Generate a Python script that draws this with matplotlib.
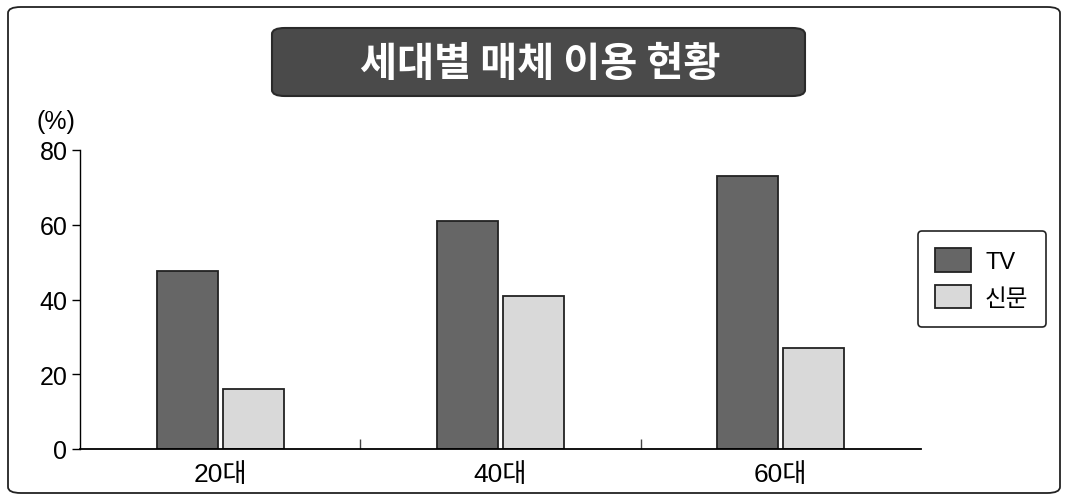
import matplotlib
matplotlib.use("Agg")
import matplotlib.pyplot as plt
import numpy as np
from matplotlib.patches import FancyBboxPatch

plt.rcParams['font.family'] = ['Liberation Sans', 'Noto Sans CJK KR', 'DejaVu Sans']

categories = ['20대', '40대', '60대']
series_names = ['TV', '신문']
tv_values = [47.5, 61, 73]
news_values = [16, 41, 27]
yticks = [0, 20, 40, 60, 80]

W, H = 1069, 502
fig = plt.figure(figsize=(W/100, H/100), dpi=100)

# outer rounded frame
frame = FancyBboxPatch((8/W, 8/H), 1052/W, 486/H, boxstyle="round,pad=0,rounding_size=0.012",
                       transform=fig.transFigure, fill=False, edgecolor='#222222', linewidth=1.3)
fig.patches.append(frame)

# title box
tbox = FancyBboxPatch((272/W, (502-97)/H), 533/W, 68/H, boxstyle="round,pad=0,rounding_size=0.012",
                      transform=fig.transFigure, facecolor='#4a4a4a', edgecolor='#2a2a2a', linewidth=1.5)
fig.patches.append(tbox)
fig.text(540/W, (502-64)/H, '세대별 매체 이용 현황', color='white', fontsize=29, fontweight='bold',
         ha='center', va='center', family=['Noto Sans CJK KR'])

ax = fig.add_axes([80/W, 52/H, 841/W, 299/H])
x = np.arange(len(categories))
bw = 0.218
off = 0.118
ax.bar(x - off, tv_values, width=bw, color='#666666', edgecolor='#222222', linewidth=1.3, label=series_names[0])
ax.bar(x + off, news_values, width=bw, color='#d9d9d9', edgecolor='#222222', linewidth=1.3, label=series_names[1])

ax.set_xlim(-0.5, 2.5)
ax.set_ylim(0, 80)
ax.set_yticks(yticks)
ax.set_yticklabels([str(v) for v in yticks], fontsize=18)
ax.tick_params(axis='y', direction='out', length=6, width=1, pad=3)
ax.set_xticks([0.5, 1.5], minor=False)
ax.set_xticklabels([])
ax.tick_params(axis='x', direction='in', length=7, width=1, colors='#444444')
for i, c in enumerate(categories):
    ax.text(i, -3.5, c, ha='center', va='top', fontsize=19, transform=ax.transData)
for s in ['top', 'right']:
    ax.spines[s].set_visible(False)
ax.spines['left'].set_linewidth(1)
ax.spines['bottom'].set_linewidth(1.3)
fig.text(36/W, (502-110)/H, '(%)', fontsize=18, ha='left', va='top')

leg = fig.legend(loc='center', bbox_to_anchor=(982/W, (502-280)/H), fontsize=17,
                 frameon=True, fancybox=True, edgecolor='#222222', handlelength=1.5, handleheight=1.15,
                 labelspacing=0.5, borderpad=0.75, handletextpad=0.6, framealpha=1)
leg.get_frame().set_linewidth(1.2)

fig.savefig('out.png', dpi=100)
